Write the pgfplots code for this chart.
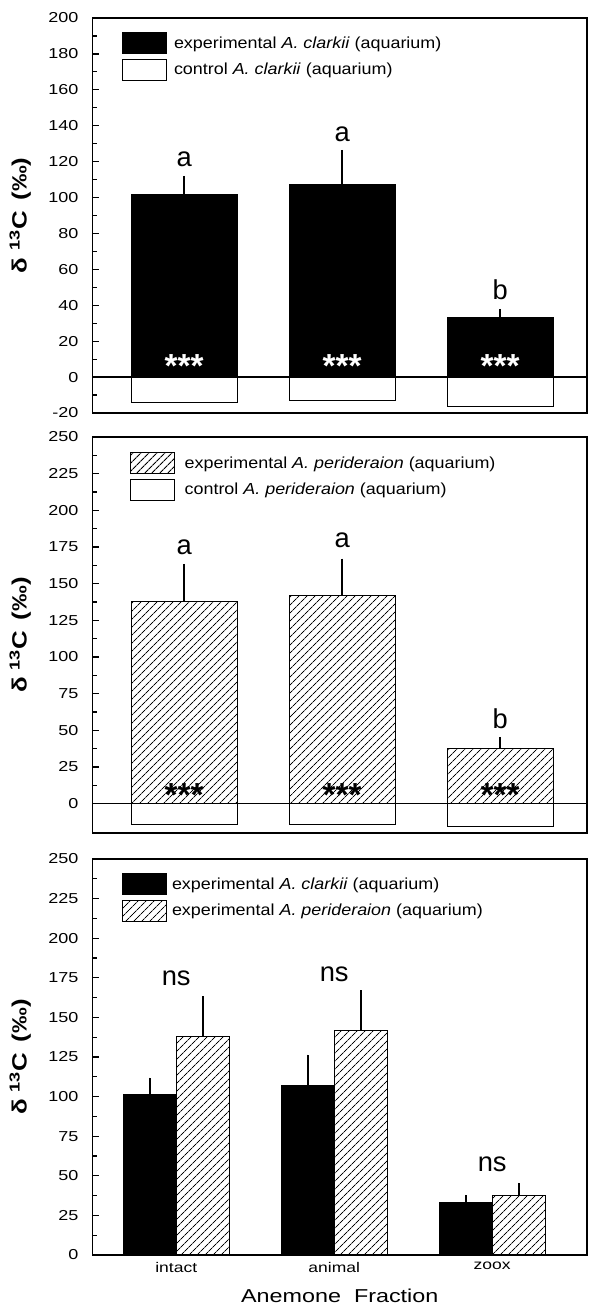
\documentclass[border=0pt]{standalone}
\usepackage{fontspec}
\setmainfont{Liberation Sans}
\newfontfamily\wide{Liberation Sans}[FakeStretch=1.25]
\newfontfamily\legendfont{Liberation Sans}[FakeStretch=1.12]
\usepackage{pgfplots}
\usepackage{pgfplotstable}
\pgfplotsset{compat=1.18}
\usetikzlibrary{patterns.meta}

% delta 13C of anemone fractions: mean, upper error, control mean
\pgfplotstableread{
c exp err ctrl
0 101.6 10.4 -14.3
1 107.2 19.3 -13.0
2 33.0  5.0  -16.3
}\clarkii
\pgfplotstableread{
c exp err ctrl
0 138.0 25.5 -14.1
1 141.7 25.3 -14.0
2 37.5  8.0  -15.3
}\perideraion

\pgfplotsset{
  panel/.style={
    scale only axis, width=370.875pt, height=297pt,
    xmin=-0.58, xmax=2.55, xtick=\empty,
    ytick pos=left, tick align=inside,
    minor y tick num=1,
    major tick length=4.5pt, minor tick length=3pt,
    every tick/.style={black, line width=0.9pt},
    axis line style={line width=1.1pt},
    yticklabel style={font=\wide\fontsize{10.8}{12}\selectfont, xshift=-7pt,
      /pgf/number format/assume math mode=true},
    ylabel={\bfseries δ \textsuperscript{13}C\, (‰)},
    ylabel style={at={(axis description cs:-0.146,0.5)}, anchor=center, font=\wide\fontsize{15.5}{16}\selectfont},
    legend style={draw=none, fill=none, inner sep=0pt, row sep=3.3pt,
      font=\legendfont\fontsize{12}{14}\selectfont, legend cell align=left,
      /tikz/every odd column/.append style={column sep=3pt}},
    legend image code/.code={\draw[##1] (0pt,-7.9pt) rectangle (33pt,7.9pt);},
  },
  expbar/.style={ybar, bar width=0.67, bar shift=0, line width=0.8pt,
    error bars/y dir=plus, error bars/y explicit, error bars/error mark=none,
    error bars/error bar style={line width=1.6pt, black}},
}
\tikzset{
  hatch/.style={pattern={Lines[angle=45,distance=4pt,line width=0.75pt]}, pattern color=black},
  sig/.style={font=\fontsize{20.5}{20}\selectfont},
  stars/.style={font=\bfseries\fontsize{25}{25}\selectfont},
  letter/.style={font=\bfseries\fontsize{19.5}{19}\selectfont},
}

\begin{document}
\begin{tikzpicture}
\useasboundingbox (0,0) rectangle (441.75pt,-978.75pt);

% panel a: A. clarkii
\begin{axis}[panel, height=296.25pt, at={(69.375pt,-13.5pt)}, anchor=north west,
  ymin=-20, ymax=200, ytick={-20,0,...,200},
  legend style={at={(axis description cs:0.0597,0.9646)}, anchor=north west}]
\addplot[expbar, fill=black, draw=black] table[x=c, y=exp, y error=err] {\clarkii};
\addlegendentry{experimental \textit{A. clarkii} (aquarium)}
\addplot[ybar, bar width=0.67, bar shift=0, fill=white, draw=black, line width=0.8pt] table[x=c, y=ctrl] {\clarkii};
\addlegendentry{control \textit{A. clarkii} (aquarium)}
\draw[line width=0.9pt] (axis cs:-0.58,0) -- (axis cs:2.55,0);
\node[sig] at (axis cs:0,121.5) {a};
\node[sig] at (axis cs:1,135.4) {a};
\node[sig] at (axis cs:2,48.7) {b};
\node[stars, text=white] at (axis cs:0,6) {***};
\node[stars, text=white] at (axis cs:1,6) {***};
\node[stars, text=white] at (axis cs:2,6) {***};
\node[letter] at (axis description cs:-0.145,0.972) {a};
\end{axis}

% panel b: A. perideraion
\begin{axis}[panel, at={(69.375pt,-327.75pt)}, anchor=north west,
  ymin=-20, ymax=250, ytick={0,25,...,250},
  legend style={at={(axis description cs:0.0758,0.962)}, anchor=north west,
    /tikz/every odd column/.append style={column sep=5pt}}]
\addplot[expbar, hatch, draw=black] table[x=c, y=exp, y error=err] {\perideraion};
\addlegendentry{experimental \textit{A. perideraion} (aquarium)}
\addplot[ybar, bar width=0.67, bar shift=0, fill=white, draw=black, line width=0.8pt] table[x=c, y=ctrl] {\perideraion};
\addlegendentry{control \textit{A. perideraion} (aquarium)}
\draw[line width=0.9pt] (axis cs:-0.58,0) -- (axis cs:2.55,0);
\node[sig] at (axis cs:0,175) {a};
\node[sig] at (axis cs:1,179.5) {a};
\node[sig] at (axis cs:2,57.6) {b};
\node[stars] at (axis cs:0,6) {***};
\node[stars] at (axis cs:1,6) {***};
\node[stars] at (axis cs:2,6) {***};
\node[letter] at (axis description cs:-0.145,0.985) {b};
\end{axis}

% panel c: both species, bars side by side around each fraction
\begin{axis}[panel, at={(69.375pt,-644.25pt)}, anchor=north west,
  xmin=-0.53, xmax=2.6,
  ymin=0, ymax=250, ytick={0,25,...,250},
  xtick={0,1,2}, xticklabels={intact,animal,zoox}, x tick style={draw=none},
  xticklabel style={font=\wide\fontsize{10.5}{12}\selectfont, yshift=-2pt},
  xlabel={Anemone\ \ Fraction},
  xlabel style={at={(axis description cs:0.5,-0.1035)}, anchor=center, font=\wide\fontsize{14}{16}\selectfont},
  legend style={at={(axis description cs:0.0597,0.9646)}, anchor=north west,
    /tikz/every odd column/.append style={column sep=1.5pt}}]
\addplot[expbar, bar width=0.335, fill=black, draw=black]
  table[x expr=\thisrow{c}-0.1675, y=exp, y error=err] {\clarkii};
\addlegendentry{experimental \textit{A. clarkii} (aquarium)}
\addplot[expbar, bar width=0.335, hatch, draw=black]
  table[x expr=\thisrow{c}+0.1675, y=exp, y error=err] {\perideraion};
\addlegendentry{experimental \textit{A. perideraion} (aquarium)}
\node[sig] at (axis cs:0,175) {ns};
\node[sig] at (axis cs:1,177) {ns};
\node[sig] at (axis cs:2,57) {ns};
\node[letter] at (axis description cs:-0.145,0.982) {c};
\end{axis}
\end{tikzpicture}
\end{document}
